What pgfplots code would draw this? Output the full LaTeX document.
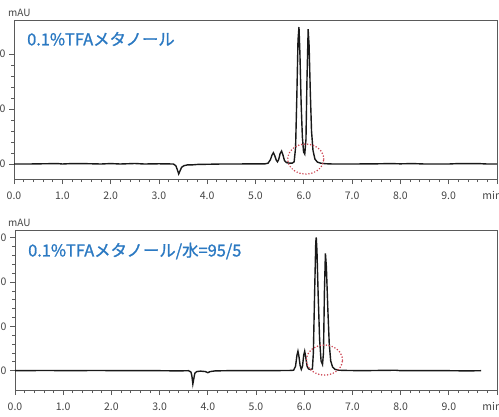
\documentclass[border=0pt]{standalone}
\usepackage{fontspec}
\setmainfont{Noto Sans CJK JP}
\newfontfamily\lblfont[FakeBold=1.2]{Noto Sans CJK JP}
\usepackage{pgfplots}
\pgfplotsset{compat=1.18}

\definecolor{lblue}{HTML}{2B79C2}
\definecolor{ring}{HTML}{CC4452}
\definecolor{frame}{HTML}{5A5A5A}
\definecolor{tick}{HTML}{444444}

\pgfplotsset{chrom/.style={
  scale only axis, anchor=south west,
  xmin=0, xmax=10,
  xtick={0,1,...,10},
  xticklabels={0.0,1.0,2.0,3.0,4.0,5.0,6.0,7.0,8.0,9.0,\hspace*{-10pt}min},
  minor x tick num=4, minor y tick num=4,
  tick align=outside, tick pos=left,
  major tick length=5pt, minor tick length=3pt,
  axis line style={frame, line width=0.8pt},
  every tick/.style={frame, line width=0.8pt},
  tick label style={font=\fontsize{10.5}{12}\selectfont, text=tick},
  xticklabel style={yshift=-4pt},
  /pgf/number format/assume math mode=true,
  yticklabel style={anchor=east},
  clip=false,
}}

\begin{document}
\begin{tikzpicture}
% upper run
\begin{axis}[chrom, at={(14pt,237pt)}, width=483pt, height=159pt,
  ymin=-27.27, ymax=261.8, ytick={0,100,200}]
\addplot[line width=1.4pt, black!90] coordinates {
 (0,0) (0.3,0) (0.9,0.8) (1.0,0) (1.2,0.8) (1.5,0.6) (1.8,0) (2.0,0.8) (2.2,0)
 (2.5,0.9) (2.7,0) (3.0,0.4) (3.3,0) (3.35,-3) (3.38,-10) (3.41,-18) (3.44,-12)
 (3.47,-6) (3.52,-3) (3.6,-1.5) (3.7,-1.5) (3.8,-0.8) (4.0,-0.5) (4.3,0) (4.6,0)
 (5.0,0.3) (5.2,0.3) (5.26,1.5) (5.31,8) (5.34,16) (5.37,20.5) (5.40,15) (5.43,7)
 (5.455,4) (5.48,8) (5.51,19) (5.54,23.5) (5.57,16) (5.60,6) (5.64,2.5) (5.70,1.5)
 (5.76,1.5) (5.80,4) (5.83,30) (5.855,120) (5.88,225) (5.90,249) (5.92,200)
 (5.945,110) (5.97,50) (5.995,22) (6.02,18) (6.045,45) (6.065,150) (6.09,245)
 (6.11,215) (6.135,130) (6.16,60) (6.19,25) (6.23,9) (6.28,3.5) (6.35,1.5)
 (6.45,0.5) (6.6,0) (7.0,0) (7.5,0.3) (7.8,0.8) (8.0,0.3) (8.25,0.8) (8.5,0)
 (9.0,0) (9.2,0.8) (9.4,0.8) (9.6,0.8) (9.8,0) (10,0)};
\draw[ring, line width=1.7pt, line cap=round, dash pattern=on 0pt off 3pt]
  (axis cs:6.04,9) ellipse [x radius=18pt, y radius=15pt];
\node[anchor=west, text=lblue, font=\lblfont\fontsize{16.4}{19}\selectfont, inner sep=0pt]
  at ([xshift=13pt,yshift=-19pt]rel axis cs:0,1) {0.1\%TFAメタノール};
\node[anchor=west, text=tick, font=\fontsize{10}{12}\selectfont, inner sep=0pt]
  at ([xshift=-6pt,yshift=7pt]rel axis cs:0,1) {mAU};
\end{axis}
% lower run
\begin{axis}[chrom, at={(15pt,26pt)}, width=482pt, height=160pt,
  ymin=-43.6, ymax=317.6, ytick={0,100,200,300}]
\addplot[line width=1.4pt, black!90] coordinates {
 (0,0) (0.7,0.5) (1.0,0) (1.8,0.5) (2.0,0) (2.5,0) (3.0,0) (3.4,-0.5) (3.6,0)
 (3.65,-3) (3.67,-12) (3.69,-30) (3.71,-18) (3.73,-6) (3.77,-2) (3.85,-1)
 (3.95,-2) (4.0,-4.5) (4.05,-2) (4.15,-0.5) (4.4,0) (5.0,0) (5.5,0.3) (5.7,0.5)
 (5.78,1) (5.82,10) (5.85,35) (5.87,44) (5.89,33) (5.915,12) (5.94,3) (5.965,10)
 (5.99,35) (6.01,44) (6.03,32) (6.06,10) (6.09,4) (6.13,2.5) (6.17,4) (6.19,40)
 (6.215,170) (6.24,290) (6.25,301) (6.265,270) (6.29,170) (6.32,70) (6.35,22)
 (6.38,14) (6.40,40) (6.42,180) (6.44,265) (6.46,235) (6.49,140) (6.52,60)
 (6.55,22) (6.59,8) (6.64,3) (6.72,1) (6.9,0.5) (7.2,0) (7.5,0.5) (7.9,1) (8.0,0)
 (8.5,0) (9.0,0) (9.4,-0.5) (9.67,0)};
\draw[ring, line width=1.7pt, line cap=round, dash pattern=on 0pt off 3pt]
  (axis cs:6.42,24) ellipse [x radius=18pt, y radius=15pt];
\node[anchor=west, text=lblue, font=\lblfont\fontsize{16.4}{19}\selectfont, inner sep=0pt]
  at ([xshift=13pt,yshift=-21pt]rel axis cs:0,1) {0.1\%TFAメタノール/水=95/5};
\node[anchor=west, text=tick, font=\fontsize{10}{12}\selectfont, inner sep=0pt]
  at ([xshift=-7pt,yshift=7pt]rel axis cs:0,1) {mAU};
\end{axis}
\pgfresetboundingbox
\useasboundingbox (0,0) rectangle (499pt,416pt);
\end{tikzpicture}
\end{document}
